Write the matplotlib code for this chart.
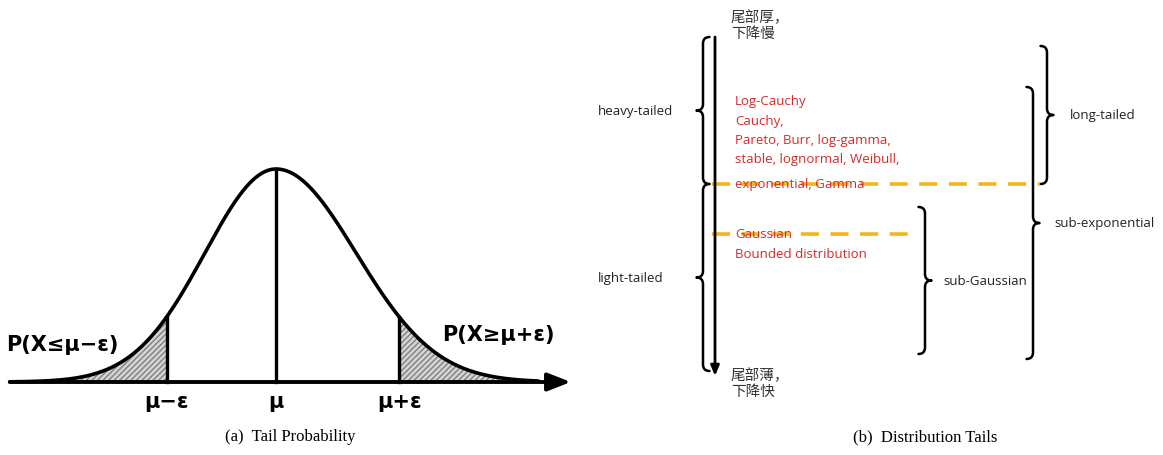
import numpy as np
import matplotlib
matplotlib.use("Agg")
import matplotlib.pyplot as plt
from matplotlib.path import Path
from matplotlib.patches import PathPatch

plt.rcParams['hatch.linewidth'] = 1.0

# (a) tail probability: hand-drawn bell curve, sigma differs a bit per side
sigma_left = 0.947
sigma_right = 1.067
eps_sigmas = 1.54
tick_labels = ["μ−ε", "μ", "μ+ε"]
tail_labels = ["P(X≤μ−ε)", "P(X≥μ+ε)"]

# (b) distribution tails
top_note = "尾部厚，\n下降慢"
bottom_note = "尾部薄，\n下降快"
heavy_names = ["Log-Cauchy", "Cauchy,", "Pareto, Burr, log-gamma,",
               "stable, lognormal, Weibull,", "exponential, Gamma"]
light_names = ["Gaussian", "Bounded distribution"]
left_braces = [("heavy-tailed", 38, 185), ("light-tailed", 185, 372)]
# label, brace x, top, bottom, label x
right_braces = [("long-tailed", 1047, 47, 185, 1070),
                ("sub-exponential", 1033, 88, 360, 1054),
                ("sub-Gaussian", 925, 208, 355, 943)]
captions = ["(a)  Tail Probability", "(b)  Distribution Tails"]


def brace(ax, x, y1, y2, r=6.5, side=1, lw=1.8):
    # side=1 -> '}' , side=-1 -> '{'
    ym = (y1 + y2) / 2
    v = [(x - side * r, y1), (x, y1), (x, y1 + r),
         (x, ym - r), (x, ym), (x + side * r, ym),
         (x, ym), (x, ym + r),
         (x, y2 - r), (x, y2), (x - side * r, y2)]
    c = [Path.MOVETO, Path.CURVE3, Path.CURVE3,
         Path.LINETO, Path.CURVE3, Path.CURVE3,
         Path.CURVE3, Path.CURVE3,
         Path.LINETO, Path.CURVE3, Path.CURVE3]
    ax.add_patch(PathPatch(Path(v, c), fill=False, lw=lw, color='k',
                           capstyle='round', joinstyle='round'))


fig = plt.figure(figsize=(11.63, 4.56), dpi=100)

# ---- left panel, data units (x in curve units, peak height 1)
W, H = 1163, 456
axl = fig.add_axes([0, (H - 420) / H, 580 / W, 270 / H])
axl.set_xlim(-276 / 75, (580 - 276) / 75)
axl.set_ylim(-37 / 213, 233 / 213)
axl.axis('off')

x = np.linspace(-3.55, 3.5, 600)
s = np.where(x < 0, sigma_left, sigma_right)
y = np.exp(-x ** 2 / (2 * s ** 2))
axl.plot(x, y, color='k', lw=2.6, solid_capstyle='round')

lo = -eps_sigmas * sigma_left
hi = eps_sigmas * sigma_right
h_cut = np.exp(-eps_sigmas ** 2 / 2)
for m in [x <= lo, x >= hi]:
    axl.fill_between(x[m], 0, y[m], facecolor='#d4d4d4', edgecolor='#808080',
                     hatch='//////', lw=0)
axl.plot([lo, lo], [0, h_cut], color='k', lw=2.4)
axl.plot([hi, hi], [0, h_cut], color='k', lw=2.4)
axl.plot([0, 0], [0, 1], color='k', lw=2.4)
axl.annotate('', xy=(3.93, 0), xytext=(-3.55, 0),
             arrowprops=dict(arrowstyle='-|>,head_length=1.4,head_width=0.55',
                             color='k', lw=2.8, shrinkA=0, shrinkB=0))

hand = dict(fontsize=15, fontweight='bold', family='DejaVu Sans')
for xv, lab in zip([lo, 0, hi], tick_labels):
    axl.text(xv, -0.09, lab, ha='center', va='center', **hand)
axl.text(-2.85, 0.178, tail_labels[0], ha='center', va='center', **hand)
axl.text(2.96, 0.225, tail_labels[1], ha='center', va='center', **hand)

# ---- right panel, pixel-like units
axr = fig.add_axes([0, 0, 1, 1])
axr.set_xlim(0, W)
axr.set_ylim(H, 0)
axr.axis('off')

cjk = dict(fontsize=10.5, family=['Noto Sans CJK SC', 'DejaVu Sans'], color='#333333')
axr.text(731, 26, top_note, ha='left', va='center', linespacing=1.15, **cjk)
axr.text(731, 384, bottom_note, ha='left', va='center', linespacing=1.15, **cjk)

axr.annotate('', xy=(715, 377), xytext=(715, 38),
             arrowprops=dict(arrowstyle='-|>,head_length=0.6,head_width=0.25',
                             color='k', lw=2, shrinkA=0, shrinkB=0))

sans = dict(fontsize=9.5, family='Open Sans', color='#222222')
for lab, y1, y2 in left_braces:
    brace(axr, 703, y1, y2, side=-1)
    axr.text(598, (y1 + y2) / 2, lab, ha='left', va='center', **sans)
for lab, xb, y1, y2, xl in right_braces:
    brace(axr, xb, y1, y2, side=1)
    axr.text(xl, (y1 + y2) / 2, lab, ha='left', va='center', **sans)

# yellow separators
axr.plot([712, 1040], [185, 185], color='#f2b61c', lw=2.6, dashes=(5, 3.2))
axr.plot([712, 918], [235, 235], color='#f2b61c', lw=2.6, dashes=(5, 3.2))

red = dict(fontsize=9.5, family='Open Sans', color='#d42a2a', ha='left', va='center')
for i, name in enumerate(heavy_names[:-1]):
    axr.text(735, 102 + 19.3 * i, name, **red)
axr.text(735, 185, heavy_names[-1], **red)
for i, name in enumerate(light_names):
    axr.text(735, 235 + 20 * i, name, **red)

serif = dict(fontsize=12, family='Liberation Serif', ha='center', va='center')
fig.text(290 / W, 1 - 437 / H, captions[0], **serif)
fig.text(925 / W, 1 - 437 / H, captions[1], **serif)

fig.savefig('out.png', dpi=100)
